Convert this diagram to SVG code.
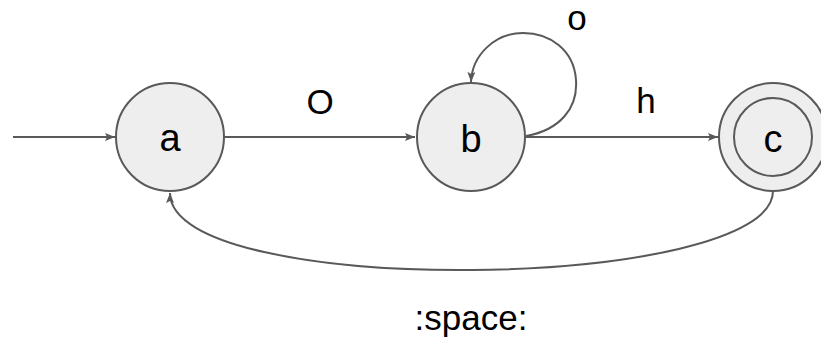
<svg xmlns="http://www.w3.org/2000/svg" width="821" height="338" viewBox="0 0 821 338">
<style>
.node{fill:#eeeeee;stroke:#595959;stroke-width:2}
.ring{fill:none;stroke:#595959;stroke-width:2}
.edge{fill:none;stroke:#595959;stroke-width:2}
.nl{font-family:"Liberation Sans",Arial,sans-serif;font-size:38px;fill:#000;text-anchor:middle}
.el{font-family:"Liberation Sans",Arial,sans-serif;font-size:35px;fill:#000;text-anchor:middle}
</style>
<defs>
<marker id="ah" viewBox="0 0 10 8" refX="10" refY="4" markerWidth="10" markerHeight="8" markerUnits="userSpaceOnUse" orient="auto">
<path d="M0,0 L10,4 L0,8 L2,4 Z" fill="#595959"/>
</marker>
</defs>
<g id="connectors">
<path class="edge" d="M13,137 L115,137" marker-end="url(#ah)"/>
<path class="edge" d="M224,137 L415,137" marker-end="url(#ah)"/>
<path class="edge" d="M526,137 L718,137" marker-end="url(#ah)"/>
<path class="edge" d="M526,136 C560,130 578,108 576,80 C574,50 550,33 523,33 C495,33 472,55 471,82" marker-end="url(#ah)"/>
<path class="edge" d="M773,191 C773,292 170,300 170,193" marker-end="url(#ah)"/>
<text class="el" x="320" y="114">O</text>
<text class="el" x="577" y="30">o</text>
<text class="el" x="646" y="113">h</text>
<text class="el" x="471" y="330">:space:</text>
</g>
<g id="node-a">
<circle class="node" cx="170" cy="137" r="54"/>
<text class="nl" x="170" y="151">a</text>
</g>
<g id="node-b">
<circle class="node" cx="471" cy="137" r="54"/>
<text class="nl" x="471" y="152">b</text>
</g>
<g id="node-c">
<circle class="node" cx="773" cy="137" r="54"/>
<circle class="ring" cx="773" cy="137" r="39"/>
<text class="nl" x="773" y="152">c</text>
</g>
</svg>
